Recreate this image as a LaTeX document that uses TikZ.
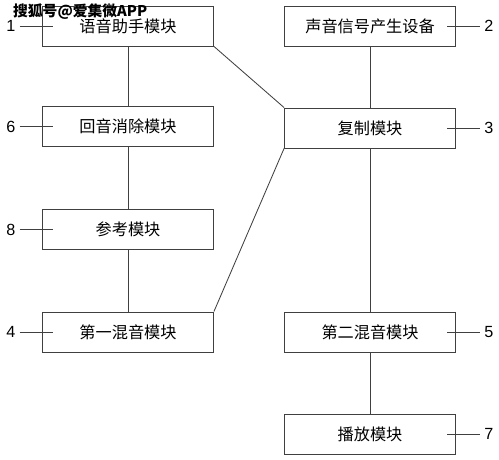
\documentclass[tikz,border=0pt]{standalone}
\usepackage{fontspec}
\setmainfont{Liberation Sans}
\newfontfamily\cjk{Noto Sans CJK SC}
\tikzset{
 mod/.style={draw,minimum width=4.275cm,minimum height=1cm,inner sep=0pt,font=\cjk\fontsize{11.5}{13}\selectfont},
 num/.style={inner sep=0pt,font=\fontsize{11.5}{13}\selectfont}
}
\begin{document}
\begin{tikzpicture}[x=1cm,y=1cm,line width=.6pt,draw=black!75]
 \useasboundingbox (0,0) rectangle (12.475,11.5);
 % left column
 \node[mod] (zs) at (3.2,10.85) {语音助手模块};
 \node[mod] (hy) at (3.2,8.33) {回音消除模块};
 \node[mod] (ck) at (3.2,5.76) {参考模块};
 \node[mod] (hy1) at (3.2,3.2) {第一混音模块};
 % right column
 \node[mod] (sy) at (9.25,10.85) {声音信号产生设备};
 \node[mod] (fz) at (9.25,8.3) {复制模块};
 \node[mod] (hy2) at (9.25,3.2) {第二混音模块};
 \node[mod] (bf) at (9.25,.65) {播放模块};
 \draw (zs)--(hy)--(ck)--(hy1);
 \draw (sy)--(fz)--(hy2)--(bf);
 \draw (zs.south east)--(fz.north west);
 \draw (hy1.north east)--(fz.south west);
 % reference numbers
 \foreach \b/\n in {zs/1,hy/6,ck/8,hy1/4}{
  \node[num,anchor=east] (n\n) at ([xshift=-.66cm]\b.west) {\n};
  \draw (n\n.east)++(.1,0) coordinate (l\n) (l\n)--([xshift=.28cm]\b.west);
 }
 \foreach \b/\n in {sy/2,fz/3,hy2/5,bf/7}{
  \node[num,anchor=west] (n\n) at ([xshift=.7cm]\b.east) {\n};
  \draw (n\n.west)++(-.1,0) coordinate (r\n) (r\n)--([xshift=-.22cm]\b.east);
 }
 \node[anchor=west,inner sep=0pt,font=\cjk\bfseries\fontsize{10.5}{12}\selectfont] (wm) at (.32,11.2) {搜狐号@爱集微APP};
\end{tikzpicture}
\end{document}
